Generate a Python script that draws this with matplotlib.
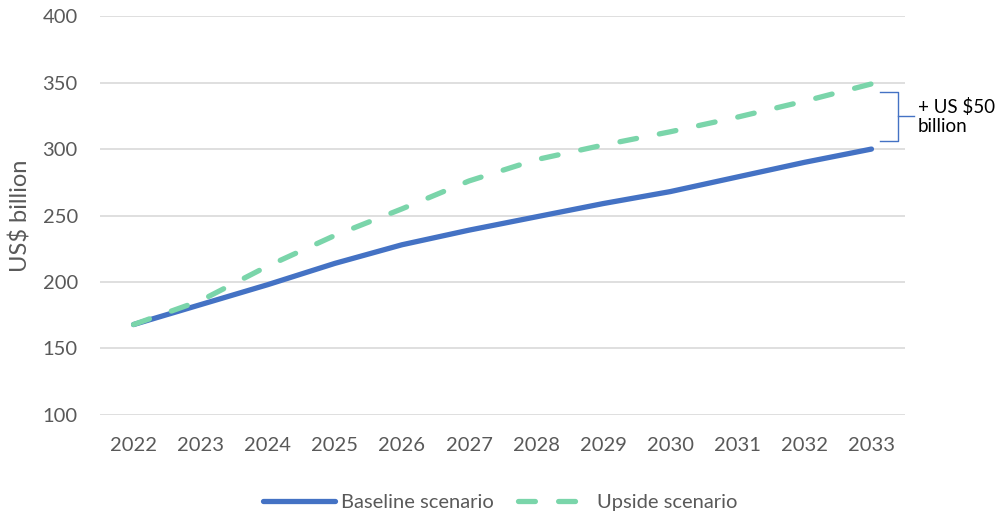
import numpy as np
import matplotlib.pyplot as plt
from matplotlib.lines import Line2D

# Data
years = [2022, 2023, 2024, 2025, 2026, 2027, 2028, 2029, 2030, 2031, 2032, 2033]
baseline = [168, 183, 198, 214, 228, 239, 249, 259, 268, 279, 290, 300]
upside = [168, 186, 212, 235, 255, 276, 292, 303, 313, 324, 336, 349]
gap_label = '+ US $50\nbillion'

blue = '#4472C4'
green = '#7AD5AA'
grey = '#595959'
dash = [3.2, 4.4]

plt.rcParams['font.family'] = ['Lato', 'DejaVu Sans']

fig = plt.figure(figsize=(10, 5.2), dpi=100)
ax = fig.add_axes([0.1, 0.202, 0.805, 0.767])

ax.plot(years, baseline, color=blue, lw=3.8, solid_capstyle='round', zorder=3)
up_line, = ax.plot(years, upside, color=green, lw=3.8, dash_capstyle='round', zorder=3)
up_line.set_dashes(dash)

ax.set_xlim(2021.5, 2033.5)
ax.set_ylim(100, 400)
ax.set_yticks(np.arange(100, 401, 50))
ax.set_xticks(years)
ax.grid(axis='y', color='#D9D9D9', lw=1.2)
ax.set_axisbelow(True)
for s in ax.spines.values():
    s.set_visible(False)
ax.tick_params(length=0, labelsize=14.5, labelcolor=grey)
ax.tick_params(axis='x', pad=16)
ax.tick_params(axis='y', pad=16)
ax.set_ylabel('US$ billion', fontsize=17, color=grey, labelpad=8)

# bracket showing the gap between the scenarios at the end
x0 = years[-1] + 0.13
x1 = years[-1] + 0.39
y_lo = baseline[-1] + 6
y_hi = upside[-1] - 6
ax.plot([x0, x1, x1, x0], [y_lo, y_lo, y_hi, y_hi], color=blue, lw=1, clip_on=False)
ym = (y_lo + y_hi) / 2
ax.plot([x1, x1 + 0.25], [ym, ym], color=blue, lw=1, clip_on=False)
ax.text(x1 + 0.3, ym, gap_label, fontsize=13.5, color='black', va='center', ha='left',
        linespacing=1.15)

handles = [Line2D([], [], color=blue, lw=3.8, solid_capstyle='round'),
           Line2D([], [], color=green, lw=3.8, dash_capstyle='round', dashes=dash)]
fig.legend(handles, ['Baseline scenario', 'Upside scenario'], loc='lower center',
           bbox_to_anchor=(0.5, -0.018), ncol=2, frameon=False, fontsize=14.5,
           labelcolor=grey, handlelength=3.6, handletextpad=0.3, columnspacing=1.2)

fig.savefig('out.png', dpi=100)
